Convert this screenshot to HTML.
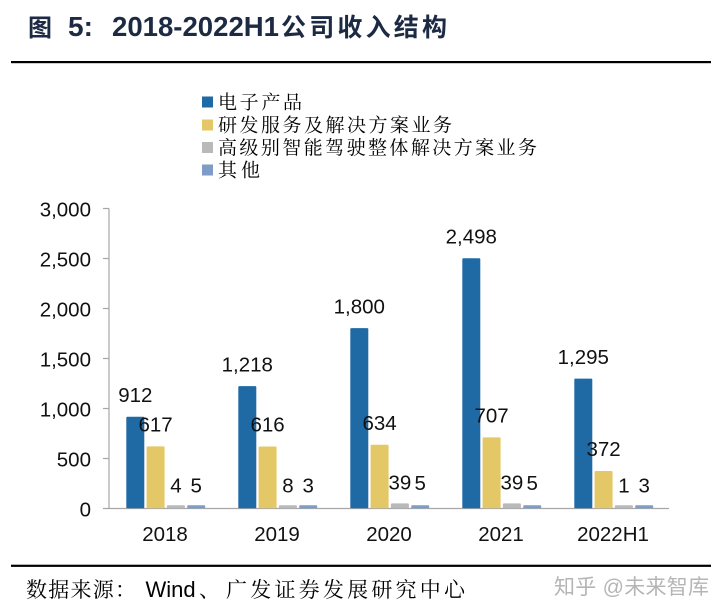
<!DOCTYPE html>
<html><head><meta charset="utf-8"><style>
html,body{margin:0;padding:0;background:#fff;}
svg{display:block;}
</style></head><body>
<svg width="727" height="614" viewBox="0 0 727 614" xmlns="http://www.w3.org/2000/svg">
<rect width="727" height="614" fill="#fff"/>
<!-- Title -->
<g fill="#1c2a43" font-weight="bold">
<text x="28" y="36" font-family="'Noto Sans CJK SC', sans-serif" font-size="24">图</text>
<text x="68" y="36" font-family="'Liberation Sans', sans-serif" font-size="28">5:</text>
<text x="112" y="36" font-family="'Liberation Sans', sans-serif" font-size="28" textLength="167" lengthAdjust="spacingAndGlyphs">2018-2022H1</text>
<text x="281" y="36" font-family="'Liberation Sans','Noto Sans CJK SC', sans-serif" font-size="25" textLength="166" lengthAdjust="spacing">公司收入结构</text>
</g>
<rect x="11" y="61" width="700" height="2.2" fill="#000"/>

<!-- Legend -->
<g font-family="'Liberation Serif','Noto Serif CJK SC', serif" font-size="19" fill="#000">
<rect x="202" y="96.5" width="11" height="11" fill="#1f6aa5"/>
<text x="218" y="108.5" textLength="84" lengthAdjust="spacing">电子产品</text>
<rect x="202" y="119.5" width="11" height="11" fill="#e4c766"/>
<text x="218" y="131.5" textLength="234" lengthAdjust="spacing">研发服务及解决方案业务</text>
<rect x="202" y="142" width="11" height="11" fill="#b9b9b9"/>
<text x="218" y="154" textLength="319" lengthAdjust="spacing">高级别智能驾驶整体解决方案业务</text>
<rect x="202" y="164.5" width="11" height="11" fill="#7e9cc5"/>
<text x="218" y="176.5" textLength="42" lengthAdjust="spacing">其他</text>
</g>

<!-- Axes -->
<g stroke="#a6a6a6" stroke-width="1.2">
<line x1="109" y1="208.5" x2="109" y2="508.5"/>
<line x1="103" y1="508.5" x2="669" y2="508.5"/>
<line x1="103" y1="208.5" x2="109" y2="208.5"/>
<line x1="103" y1="258.5" x2="109" y2="258.5"/>
<line x1="103" y1="308.5" x2="109" y2="308.5"/>
<line x1="103" y1="358.5" x2="109" y2="358.5"/>
<line x1="103" y1="408.5" x2="109" y2="408.5"/>
<line x1="103" y1="458.5" x2="109" y2="458.5"/>
</g>
<g font-family="'Liberation Sans', sans-serif" font-size="20.5" fill="#111" text-anchor="end">
<text x="91" y="216.5">3,000</text>
<text x="91" y="266.5">2,500</text>
<text x="91" y="316.5">2,000</text>
<text x="91" y="366.5">1,500</text>
<text x="91" y="416.5">1,000</text>
<text x="91" y="466.5">500</text>
<text x="91" y="516.5">0</text>
</g>

<!-- Bars -->
<g>
<rect x="126.3" y="416.7" width="18" height="91.6" fill="#1f6aa5" rx="1"/>
<rect x="146.6" y="446.4" width="18" height="61.9" fill="#e4c766" rx="1"/>
<rect x="166.9" y="505.3" width="18" height="3" fill="#b9b9b9" rx="1"/>
<rect x="187.2" y="505.3" width="18" height="3" fill="#7e9cc5" rx="1"/>

<rect x="238.3" y="386.1" width="18" height="122.2" fill="#1f6aa5" rx="1"/>
<rect x="258.6" y="446.5" width="18" height="61.8" fill="#e4c766" rx="1"/>
<rect x="278.9" y="505.3" width="18" height="3" fill="#b9b9b9" rx="1"/>
<rect x="299.2" y="505.3" width="18" height="3" fill="#7e9cc5" rx="1"/>

<rect x="350.3" y="328.1" width="18" height="180.2" fill="#1f6aa5" rx="1"/>
<rect x="370.6" y="444.7" width="18" height="63.6" fill="#e4c766" rx="1"/>
<rect x="390.9" y="503.4" width="18" height="4.9" fill="#b9b9b9" rx="1"/>
<rect x="411.2" y="505.3" width="18" height="3" fill="#7e9cc5" rx="1"/>

<rect x="462.3" y="258.3" width="18" height="250" fill="#1f6aa5" rx="1"/>
<rect x="482.6" y="437.4" width="18" height="70.9" fill="#e4c766" rx="1"/>
<rect x="502.9" y="503.4" width="18" height="4.9" fill="#b9b9b9" rx="1"/>
<rect x="523.2" y="505.3" width="18" height="3" fill="#7e9cc5" rx="1"/>

<rect x="574.3" y="378.6" width="18" height="129.7" fill="#1f6aa5" rx="1"/>
<rect x="594.6" y="471" width="18" height="37.3" fill="#e4c766" rx="1"/>
<rect x="614.9" y="505.3" width="18" height="3" fill="#b9b9b9" rx="1"/>
<rect x="635.2" y="505.3" width="18" height="3" fill="#7e9cc5" rx="1"/>
</g>

<!-- Data labels -->
<g font-family="'Liberation Sans', sans-serif" font-size="20.5" fill="#111" text-anchor="middle">
<text x="135.3" y="402">912</text>
<text x="155.6" y="431.6">617</text>
<text x="175.9" y="492.5">4</text>
<text x="196.2" y="492.5">5</text>

<text x="247.3" y="371.5">1,218</text>
<text x="267.6" y="431.7">616</text>
<text x="287.9" y="492.5">8</text>
<text x="308.2" y="492.5">3</text>

<text x="359.3" y="313.3">1,800</text>
<text x="379.6" y="429.9">634</text>
<text x="399.9" y="489.4">39</text>
<text x="420.2" y="489.8">5</text>

<text x="471.3" y="243.5">2,498</text>
<text x="491.6" y="422.6">707</text>
<text x="511.9" y="489.4">39</text>
<text x="532.2" y="489.8">5</text>

<text x="583.3" y="363.8">1,295</text>
<text x="603.6" y="456.1">372</text>
<text x="623.9" y="492.5">1</text>
<text x="644.2" y="492.5">3</text>
</g>

<!-- X labels -->
<g font-family="'Liberation Sans', sans-serif" font-size="20.5" fill="#111" text-anchor="middle">
<text x="165" y="541">2018</text>
<text x="277" y="541">2019</text>
<text x="389" y="541">2020</text>
<text x="501" y="541">2021</text>
<text x="613" y="541">2022H1</text>
</g>

<rect x="11" y="564.7" width="700" height="2.2" fill="#000"/>

<!-- Source -->
<g fill="#000">
<text x="26" y="597" font-family="'Liberation Serif','Noto Serif CJK SC', serif" font-size="21" textLength="110" lengthAdjust="spacing">数据来源：</text>
<text x="145.5" y="597" font-family="'Liberation Sans', sans-serif" font-size="22">Wind</text>
<text x="199" y="597" font-family="'Liberation Serif','Noto Serif CJK SC', serif" font-size="21">、</text>
<text x="226" y="597" font-family="'Liberation Serif','Noto Serif CJK SC', serif" font-size="21" textLength="239" lengthAdjust="spacing">广发证券发展研究中心</text>
</g>
<text x="554" y="594" font-family="'Liberation Sans','Noto Sans CJK SC', sans-serif" font-size="21" fill="#b5b5b5" textLength="155" lengthAdjust="spacing">知乎 @未来智库</text>
</svg>
</body></html>
